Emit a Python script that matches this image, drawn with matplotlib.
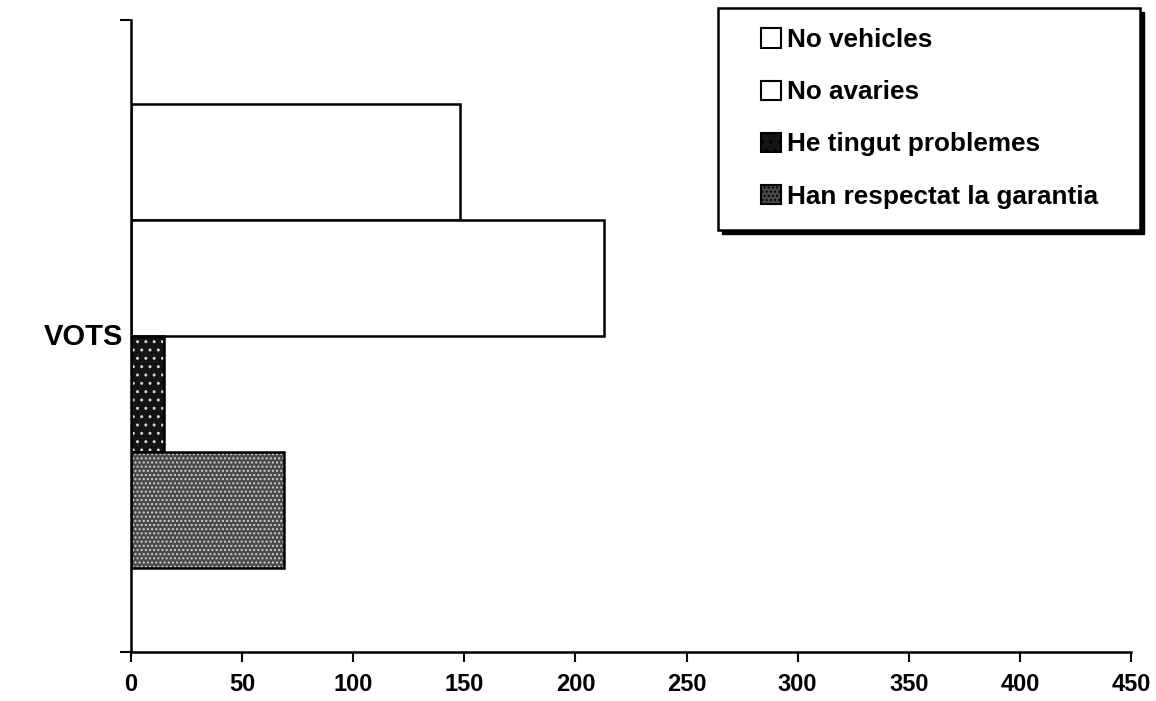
import matplotlib.pyplot as plt
from matplotlib.patches import Patch, Rectangle

# données
series = ["No vehicles", "No avaries", "He tingut problemes", "Han respectat la garantia"]
valeurs = [148, 213, 15, 69]
categorie = "VOTS"
xticks = [0, 50, 100, 150, 200, 250, 300, 350, 400, 450]

plt.rcParams['font.family'] = ['Liberation Sans', 'DejaVu Sans']
plt.rcParams['font.weight'] = 'bold'

W, H = 1156, 701
fig = plt.figure(figsize=(W/100, H/100), dpi=100)
ax = fig.add_axes([131/W, 1-652/H, 1000/W, 632/H])

# styles des barres : blanc, blanc, noir moucheté, gris moucheté
couleurs = ["white", "white", "#141414", "#4a4a4a"]
hachures = [None, None, "..", "...."]

h = 0.1835
decalages = [1.5, 0.5, -0.5, -1.5]
handles = []
for nom, v, c, hh, d in zip(series, valeurs, couleurs, hachures, decalages):
    y = 0.5 + d * h
    if hh:
        ax.barh(y, v, height=h, color=c, hatch=hh, edgecolor="#d0d0d0", lw=0)
    ax.barh(y, v, height=h, fill=(hh is None), facecolor=c, edgecolor="black", lw=1.8)
    handles.append(Patch(facecolor=c, edgecolor="black", hatch=hh, lw=1.5))

ax.set_xlim(0, 450)
ax.set_ylim(0, 1)
ax.set_xticks(xticks)
ax.set_yticks([0, 1])
ax.set_yticklabels([])
ax.tick_params(axis='x', direction='out', length=7, width=1.5, pad=8, labelsize=17)
ax.tick_params(axis='y', direction='out', length=8, width=1.5)
for s in ['top', 'right']:
    ax.spines[s].set_visible(False)
for s in ['left', 'bottom']:
    ax.spines[s].set_linewidth(1.8)

fig.text(83/W, 1-337/H, categorie, fontsize=21, fontweight='bold', ha='center', va='center')

# cadre de la légende avec son ombre
fig.patches.append(Rectangle(((718+4)/W, 1-(230+4)/H), 422/W, 222/H, transform=fig.transFigure,
                             facecolor='black', edgecolor='black', zorder=2))
fig.patches.append(Rectangle((718/W, 1-230/H), 422/W, 222/H, transform=fig.transFigure,
                             facecolor='white', edgecolor='black', lw=1.8, zorder=3))

fig.legend(handles, series, loc='upper left', bbox_to_anchor=(748/W, 1-15/H),
           bbox_transform=fig.transFigure, borderaxespad=0, frameon=False,
           handlelength=0.75, handleheight=0.75, handletextpad=0.25,
           labelspacing=1.08, borderpad=0.5, prop={'weight': 'bold', 'size': 18.8})

plt.savefig("out.png", dpi=100)
